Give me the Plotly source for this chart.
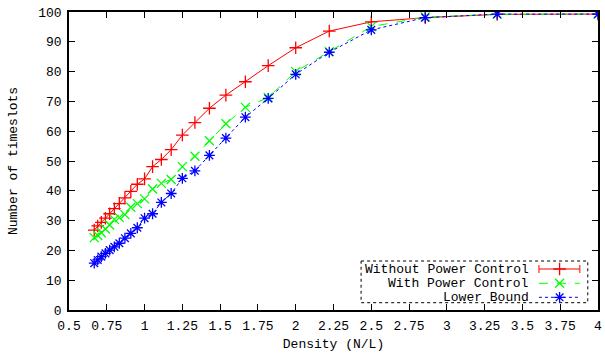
import plotly.graph_objects as go

density = [0.667, 0.690, 0.714, 0.741, 0.769, 0.800, 0.833, 0.870, 0.909, 0.952,
           1.000, 1.053, 1.111, 1.176, 1.250, 1.333, 1.429, 1.538, 1.667, 1.818,
           2.000, 2.222, 2.500, 2.857, 3.333, 4.000]
without_pc = [26.8, 28.2, 29.4, 30.8, 32.3, 34.0, 35.7, 37.6, 39.8, 42.2,
              44.0, 48.1, 50.5, 53.8, 58.7, 62.9, 67.7, 72.1, 76.6, 82.0,
              88.0, 93.6, 96.7, 98.1, 99.2, 99.3]
with_pc = [24.3, 25.0, 25.9, 27.2, 28.5, 30.4, 31.0, 32.0, 34.5, 35.7,
           37.3, 40.6, 42.5, 43.8, 48.1, 51.6, 56.8, 62.5, 68.0, 71.3,
           80.0, 86.7, 95.1, 98.3, 99.2, 99.3]
lower_bound = [15.7, 16.8, 17.9, 19.0, 20.1, 21.2, 22.4, 24.1, 25.7, 27.6,
               30.8, 32.3, 36.1, 39.1, 44.2, 46.7, 51.9, 57.7, 64.7, 71.0,
               79.1, 86.5, 94.0, 98.1, 99.3, 99.3]
series_names = ["Without Power Control", "With Power Control", "Lower Bound"]
x_tickvals = [0.5, 0.75, 1, 1.25, 1.5, 1.75, 2, 2.25, 2.5, 2.75, 3, 3.25, 3.5, 3.75, 4]
x_ticktext = ["0.5", "0.75", "1", "1.25", "1.5", "1.75", "2", "2.25", "2.5", "2.75",
              "3", "3.25", "3.5", "3.75", "4"]
y_tickvals = [0, 10, 20, 30, 40, 50, 60, 70, 80, 90, 100]

FONT = "Liberation Mono, Courier New, monospace"
styles = [
    dict(color="#ff0000", dash="solid", symbol="cross-thin"),
    dict(color="#00ff00", dash="dash", symbol="x-thin"),
    dict(color="#0000ff", dash="dot", symbol="asterisk"),
]
ys = [without_pc, with_pc, lower_bound]

fig = go.Figure()
for name, y, st in zip(series_names, ys, styles):
    fig.add_trace(go.Scatter(
        x=density, y=y, mode="lines+markers", name=name, showlegend=False,
        line=dict(color=st["color"], width=1, dash=st["dash"]),
        marker=dict(symbol=st["symbol"], size=9, color=st["color"],
                    line=dict(color=st["color"], width=1.3)),
    ))

# Legend (gnuplot style: right-aligned text, sample on the right, dotted box)
L, R, T, B = 69, 602, 12, 310
W, H = 605, 355
def px(xp):
    return (xp - L) / (R - L)
def py(yp):
    return (B - yp) / (B - T)

row_y = [269, 283.3, 297.3]
for i, (name, st, yr) in enumerate(zip(series_names, styles, row_y)):
    fig.add_trace(go.Scatter(
        x=[px(542.5), px(563.3), px(583.7)], y=[py(yr)] * 3,
        xaxis="x2", yaxis="y2", mode="lines", showlegend=False, hoverinfo="skip",
        line=dict(color=st["color"], width=1, dash=st["dash"]),
    ))
    fig.add_trace(go.Scatter(
        x=[px(563.3)], y=[py(yr)], xaxis="x2", yaxis="y2", mode="markers",
        showlegend=False, hoverinfo="skip",
        marker=dict(symbol=st["symbol"], size=9, color=st["color"],
                    line=dict(color=st["color"], width=1.3)),
    ))
    fig.add_annotation(x=px(534), y=py(yr), xref="x2", yref="y2", text=name,
                       showarrow=False, xanchor="right", yanchor="middle",
                       font=dict(family=FONT, size=13, color="#000000"))
    if i == 0:
        for xe in (542.5, 583.7):
            fig.add_shape(type="line", xref="x2", yref="y2",
                          x0=px(xe), x1=px(xe), y0=py(yr - 4), y1=py(yr + 4),
                          line=dict(color=st["color"], width=1))
fig.add_shape(type="rect", xref="x2", yref="y2",
              x0=px(363.3), x1=px(591.7), y0=py(261), y1=py(302.7),
              line=dict(color="#000000", width=1, dash="dot"), fillcolor="rgba(255,255,255,1)",
              layer="below")

fig.update_layout(
    width=W, height=H,
    margin=dict(l=L, r=W - R, t=T, b=H - B),
    paper_bgcolor="white", plot_bgcolor="white",
    font=dict(family=FONT, size=13, color="#000000"),
    xaxis=dict(range=[0.5, 4], tickvals=x_tickvals, ticktext=x_ticktext,
               ticks="inside", ticklen=6, tickwidth=1, tickcolor="#000",
               showline=True, linecolor="#000", linewidth=1.5, mirror="ticks",
               showgrid=False, zeroline=False, ticklabelstandoff=3,
               title=dict(text="Density (N/L)", standoff=6, font=dict(size=13))),
    yaxis=dict(range=[0, 100], tickvals=y_tickvals,
               ticks="inside", ticklen=6, tickwidth=1, tickcolor="#000",
               showline=True, linecolor="#000", linewidth=1.5, mirror="ticks",
               showgrid=False, zeroline=False, ticklabelstandoff=3,
               title=dict(text="Number of timeslots", standoff=18, font=dict(size=13))),
    xaxis2=dict(range=[0, 1], overlaying="x", visible=False, fixedrange=True),
    yaxis2=dict(range=[0, 1], overlaying="y", visible=False, fixedrange=True),
)

fig.write_html("out.html", config={"displayModeBar": False},
               post_script="document.body.style.margin='0';document.body.style.overflow='hidden';")
